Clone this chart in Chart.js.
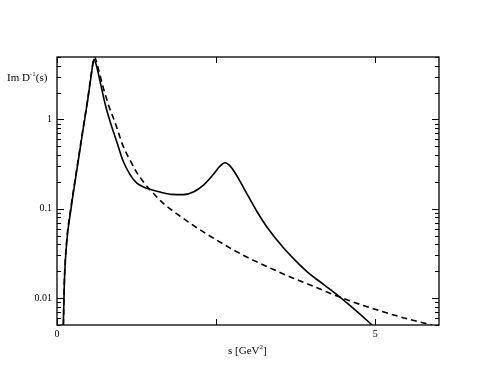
<!DOCTYPE html>
<html>
<head>
<meta charset="utf-8">
<script src="https://cdn.jsdelivr.net/npm/chart.js@4"></script>
<style>
  body { margin: 0; background: #fff; }
  #wrap { width: 494px; height: 382px; position: relative; }
</style>
</head>
<body>
<div id="wrap"><canvas id="chart"></canvas></div>
<script>
// solid curve
const sSolid = [0.10, 0.115, 0.15, 0.22, 0.30, 0.40, 0.48, 0.54, 0.58, 0.62, 0.68, 0.76, 0.84, 0.94,
  1.04, 1.15, 1.25, 1.36, 1.46, 1.60, 1.80, 1.99, 2.15, 2.30, 2.45, 2.56, 2.64, 2.72, 2.80, 2.88,
  3.00, 3.14, 3.30, 3.56, 3.75, 3.93, 4.20, 4.42, 4.70, 4.95];
const imSolid = [0.005, 0.0145, 0.04, 0.1, 0.24, 0.7, 1.6, 3.2, 4.7, 4.0, 2.6, 1.45, 0.92, 0.56,
  0.34, 0.24, 0.195, 0.175, 0.165, 0.155, 0.145, 0.144, 0.155, 0.184, 0.24, 0.30, 0.327, 0.30, 0.25, 0.20,
  0.14, 0.0933, 0.0622, 0.0363, 0.0261, 0.0197, 0.014, 0.0106, 0.0072, 0.005];

// dashed curve
const sDashed = [0.10, 0.115, 0.15, 0.22, 0.30, 0.40, 0.48, 0.54, 0.59, 0.64, 0.73, 0.82, 0.91,
  1.04, 1.15, 1.25, 1.37, 1.49, 1.67, 1.93, 2.19, 2.46, 2.72, 2.98, 3.40, 3.72, 3.93, 4.45, 4.97, 5.45, 5.89];
const imDashed = [0.005, 0.015, 0.042, 0.105, 0.25, 0.72, 1.65, 3.3, 5.0, 3.9, 2.22, 1.38, 0.933,
  0.50, 0.347, 0.257, 0.195, 0.155, 0.115, 0.083, 0.0617, 0.0468, 0.0363, 0.0288, 0.0209, 0.0166, 0.0145,
  0.0102, 0.0076, 0.006, 0.005];

const xTickValues = [0, 2.5, 5];
const xTickLabels = ['0', '', '5'];
const yTickValues = [0.01, 0.1, 1];
const yTickLabels = ['0.01', '0.1', '1'];

const FONT = "'Liberation Serif', 'DejaVu Serif', serif";

function pts(xs, ys) {
  return xs.map((x, i) => ({ x: x, y: ys[i] }));
}

// frame, inward ticks and axis titles
const framePlugin = {
  id: 'frame',
  afterDraw(chart) {
    const c = chart.ctx;
    const a = chart.chartArea;
    const xs = chart.scales.x, ys = chart.scales.y;
    c.save();
    c.strokeStyle = '#000';
    c.lineWidth = 1.3;
    c.strokeRect(a.left, a.top, a.right - a.left, a.bottom - a.top);

    c.lineWidth = 1;
    c.beginPath();
    // y ticks, major and minor
    for (let d = -3; d <= 0; d++) {
      for (let m = 1; m <= 9; m++) {
        const v = m * Math.pow(10, d);
        if (v < ys.min || v > ys.max) continue;
        const py = Math.round(ys.getPixelForValue(v)) + 0.5;
        const len = m === 1 ? 7 : 4;
        c.moveTo(a.left, py); c.lineTo(a.left + len, py);
        c.moveTo(a.right, py); c.lineTo(a.right - len, py);
      }
    }
    // x ticks
    xTickValues.forEach(v => {
      const px = Math.round(xs.getPixelForValue(v)) + 0.5;
      c.moveTo(px, a.bottom); c.lineTo(px, a.bottom - 6);
      c.moveTo(px, a.top); c.lineTo(px, a.top + 6);
    });
    c.stroke();

    // y title: Im D^-1(s)
    c.fillStyle = '#000';
    c.textBaseline = 'alphabetic';
    c.textAlign = 'left';
    let x = 7;
    const yb = 81;
    c.font = '11px ' + FONT;
    c.fillText('Im D', x, yb);
    x += c.measureText('Im D').width;
    c.font = '7px ' + FONT;
    c.fillText('-1', x, yb - 5);
    x += c.measureText('-1').width;
    c.font = '11px ' + FONT;
    c.fillText('(s)', x, yb);

    // x title: s [GeV^2]
    x = 228;
    const xb = 354;
    c.fillText('s [GeV', x, xb);
    x += c.measureText('s [GeV').width;
    c.font = '7px ' + FONT;
    c.fillText('2', x, xb - 5);
    x += c.measureText('2').width;
    c.font = '11px ' + FONT;
    c.fillText(']', x, xb);
    c.restore();
  }
};

new Chart(document.getElementById('chart'), {
  type: 'line',
  data: {
    datasets: [
      {
        label: 'solid',
        data: pts(sSolid, imSolid),
        borderColor: '#000',
        borderWidth: 1.6,
        pointRadius: 0,
        cubicInterpolationMode: 'monotone',
        fill: false
      },
      {
        label: 'dashed',
        data: pts(sDashed, imDashed),
        borderColor: '#000',
        borderWidth: 1.6,
        borderDash: [6, 4],
        pointRadius: 0,
        cubicInterpolationMode: 'monotone',
        fill: false
      }
    ]
  },
  options: {
    responsive: true,
    maintainAspectRatio: false,
    animation: false,
    layout: { padding: { left: 0, top: 57, right: 55, bottom: 0 } },
    plugins: {
      legend: { display: false },
      tooltip: { enabled: false }
    },
    scales: {
      x: {
        type: 'linear',
        min: 0,
        max: 6,
        grid: { display: false, drawTicks: false },
        border: { display: false },
        afterBuildTicks: s => { s.ticks = xTickValues.map(v => ({ value: v })); },
        afterFit: s => { s.height = 57; },
        ticks: {
          padding: 3,
          color: '#000',
          font: { family: FONT, size: 10 },
          maxRotation: 0,
          callback: (v) => xTickLabels[xTickValues.indexOf(v)] ?? ''
        }
      },
      y: {
        type: 'logarithmic',
        min: 0.005,
        max: 5,
        grid: { display: false, drawTicks: false },
        border: { display: false },
        afterBuildTicks: s => { s.ticks = yTickValues.map(v => ({ value: v })); },
        afterFit: s => { s.width = 57; },
        ticks: {
          padding: 5,
          color: '#000',
          font: { family: FONT, size: 10 },
          callback: (v) => yTickLabels[yTickValues.indexOf(v)] ?? ''
        }
      }
    }
  },
  plugins: [framePlugin]
});
</script>
</body>
</html>
